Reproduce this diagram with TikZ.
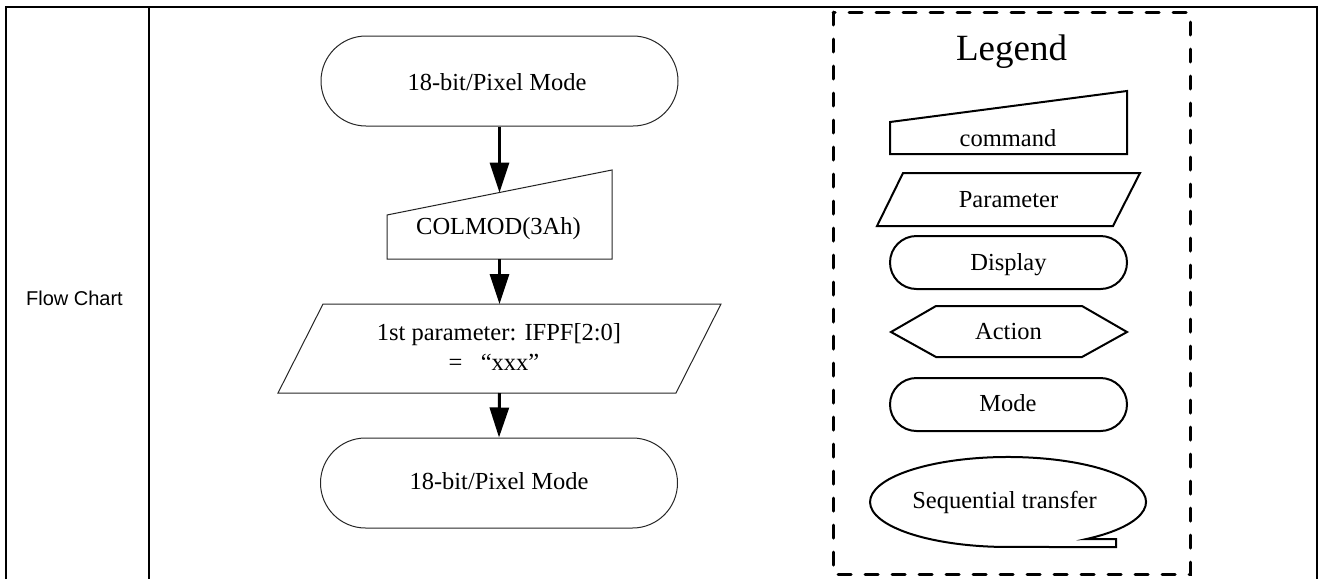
\documentclass[tikz,border=0pt]{standalone}
\usepackage{fontspec}
\setmainfont{Liberation Serif}
\newfontfamily\arialfont{Liberation Sans}
\usetikzlibrary{shapes.misc,arrows.meta}
\begin{document}
\begin{tikzpicture}[x=1pt,y=-1pt,
  tbl/.style={line width=2.6pt},
  fshape/.style={draw=black!85, line width=1pt},
  lshape/.style={draw=black, line width=2pt},
  fterm/.style={rounded rectangle, fshape, inner sep=0pt, minimum width=357pt, minimum height=90pt},
  lterm/.style={rounded rectangle, lshape, inner sep=0pt, minimum width=237pt, minimum height=53pt},
  txt/.style={anchor=base, inner sep=0pt, font=\fontsize{24.5}{30}\selectfont},
  flowarrow/.style={line width=3pt, -{Triangle[length=30pt,width=19pt]}},
  legendbox/.style={line width=3pt, dash pattern=on 13pt off 14pt, line cap=round}
]
\useasboundingbox (0,0) rectangle (1322,579);
% table frame
\draw[tbl] (6,579) -- (6,7) -- (1317,7) -- (1317,579);
\draw[tbl] (149,7) -- (149,579);
\node[anchor=base east, inner sep=0pt, font=\arialfont\fontsize{20}{24}\selectfont] (fc) at (123,305) {Flow Chart};

% flow chart
\node[fterm] (m1) at (499.5,81) {};
\node[txt] (m1t) at (497,90) {18-bit/Pixel Mode};

\draw[fshape] (387,215) -- (612,170) -- (612,259) -- (387,259) -- cycle;
\coordinate (cmdin) at (499.5,192.5);
\coordinate (cmdout) at (499.5,259);
\node[txt] (cmd) at (498.5,234) {COLMOD(3Ah)};

\draw[fshape] (323,304) -- (721,304) -- (676,393) -- (278,393) -- cycle;
\coordinate (parin) at (499.5,304);
\coordinate (parout) at (499.5,393);
\node[txt] (par1) at (499,340.5) {1st parameter: IFPF[2:0]};
\node[txt] (par2) at (494,370.5) {=\ \ \ “xxx”};

\node[fterm] (m2) at (499,483) {};
\node[txt] (m2t) at (499,489) {18-bit/Pixel Mode};

\draw[flowarrow] (m1.south) -- (cmdin);
\draw[flowarrow] (cmdout) -- (parin);
\draw[flowarrow] (parout) -- (m2.north);

% legend
\draw[legendbox] (833,12) rectangle (1190,574);
\node[txt, font=\fontsize{37}{44}\selectfont] (lg) at (1011.5,60) {Legend};

\draw[lshape] (890,122) -- (1127,91) -- (1127,154) -- (890,154) -- cycle;
\node[txt] (lcmd) at (1008,146) {command};

\draw[lshape] (903,173) -- (1140,173) -- (1113,226) -- (877,226) -- cycle;
\node[txt] (lpar) at (1008.5,207) {Parameter};

\node[lterm] (ldisp) at (1008.5,262.5) {};
\node[txt] (ldispt) at (1008.5,270) {Display};

\draw[lshape] (891,332) -- (936,306) -- (1082,306) -- (1127,332) -- (1082,357) -- (936,357) -- cycle;
\node[txt] (lact) at (1008.5,339) {Action};

\node[lterm] (lmode) at (1008.5,404.5) {};
\node[txt] (lmodet) at (1008,411.7) {Mode};

\draw[lshape] (1085.6,539.2) arc[start angle=55.8, end angle=-270, x radius=138, y radius=45]
  -- (1116,547) -- (1116,539) -- cycle;
\node[txt] (lseq) at (1004.5,508) {Sequential transfer};
\end{tikzpicture}
\end{document}
